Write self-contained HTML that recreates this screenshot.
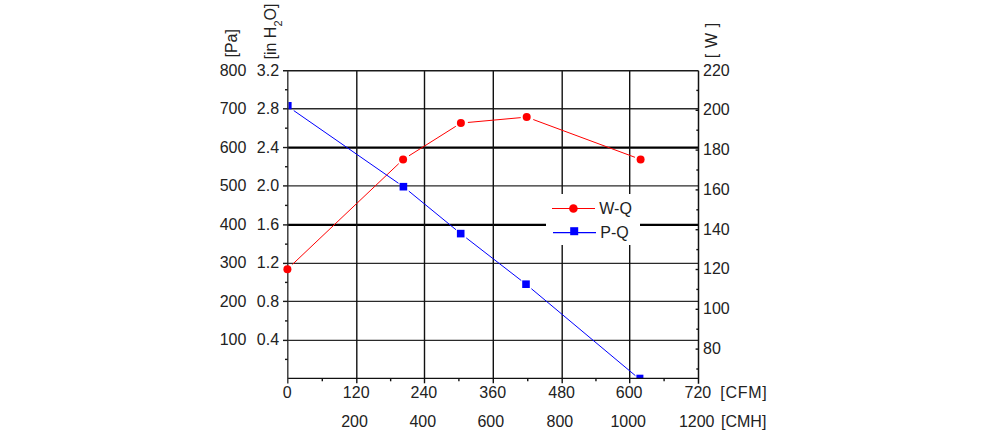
<!DOCTYPE html>
<html><head><meta charset="utf-8"><style>
html,body{margin:0;padding:0;background:#fff;}
svg{display:block;}
text{font-family:"Liberation Sans",Arial,sans-serif;font-size:16px;fill:#222;}
</style></head><body>
<svg width="983" height="437" viewBox="0 0 983 437">
<rect width="983" height="437" fill="#fff"/>
<line x1="287.8" y1="108.8" x2="698.5" y2="108.8" stroke="#2a2a2a" stroke-width="1.4"/>
<line x1="287.8" y1="147.55" x2="698.5" y2="147.55" stroke="#000" stroke-width="2.2"/>
<line x1="287.8" y1="185.9" x2="698.5" y2="185.9" stroke="#2a2a2a" stroke-width="1.4"/>
<line x1="287.8" y1="224.9" x2="698.5" y2="224.9" stroke="#000" stroke-width="2.2"/>
<line x1="287.8" y1="263.4" x2="698.5" y2="263.4" stroke="#2a2a2a" stroke-width="1.4"/>
<line x1="287.8" y1="301.4" x2="698.5" y2="301.4" stroke="#2a2a2a" stroke-width="1.4"/>
<line x1="287.8" y1="340.4" x2="698.5" y2="340.4" stroke="#2a2a2a" stroke-width="1.4"/>
<line x1="356.8" y1="70.7" x2="356.8" y2="378.4" stroke="#111" stroke-width="1.4"/>
<line x1="424.5" y1="70.7" x2="424.5" y2="378.4" stroke="#111" stroke-width="1.4"/>
<line x1="493.3" y1="70.7" x2="493.3" y2="378.4" stroke="#111" stroke-width="1.4"/>
<line x1="562.2" y1="70.7" x2="562.2" y2="378.4" stroke="#111" stroke-width="1.4"/>
<line x1="629.7" y1="70.7" x2="629.7" y2="378.4" stroke="#111" stroke-width="1.4"/>
<rect x="546" y="194" width="94" height="51" fill="#fff"/>
<line x1="292.48" y1="264.38" x2="398.75" y2="163.63" stroke="#f00" stroke-width="1.0"/>
<line x1="409.02" y1="155.77" x2="455.82" y2="126.3" stroke="#f00" stroke-width="1.0"/>
<line x1="467.87" y1="122.46" x2="520.72" y2="117.64" stroke="#f00" stroke-width="1.0"/>
<line x1="533.26" y1="119.54" x2="634.98" y2="157.31" stroke="#f00" stroke-width="1.0"/>
<line x1="293.75" y1="110.59" x2="398.47" y2="183.28" stroke="#00f" stroke-width="1.0"/>
<line x1="408.82" y1="191.13" x2="456.06" y2="229.8" stroke="#00f" stroke-width="1.0"/>
<line x1="466.23" y1="237.89" x2="521.26" y2="280.52" stroke="#00f" stroke-width="1.0"/>
<line x1="531.37" y1="288.69" x2="635.4" y2="375.65" stroke="#00f" stroke-width="1.0"/>
<rect x="288.4" y="102" width="3.2" height="7.3" fill="#00f"/>
<rect x="399.6" y="182.9" width="7.6" height="7.6" fill="#00f"/>
<rect x="456.9" y="229.8" width="7.6" height="7.6" fill="#00f"/>
<rect x="522.2" y="280.4" width="7.6" height="7.6" fill="#00f"/>
<rect x="636.4" y="374.7" width="7" height="3.3" fill="#00f"/>
<line x1="283" y1="70.7" x2="698.5" y2="70.7" stroke="#1a1a1a" stroke-width="1.4"/>
<line x1="287.8" y1="378.4" x2="698.5" y2="378.4" stroke="#111" stroke-width="1.4"/>
<line x1="287.8" y1="70.7" x2="287.8" y2="383.5" stroke="#333" stroke-width="1.4"/>
<line x1="698.5" y1="70.7" x2="698.5" y2="383.7" stroke="#111" stroke-width="1.5"/>
<line x1="283" y1="108.8" x2="287.8" y2="108.8" stroke="#1a1a1a" stroke-width="1.4"/>
<line x1="283" y1="147.55" x2="287.8" y2="147.55" stroke="#1a1a1a" stroke-width="1.4"/>
<line x1="283" y1="185.9" x2="287.8" y2="185.9" stroke="#1a1a1a" stroke-width="1.4"/>
<line x1="283" y1="224.9" x2="287.8" y2="224.9" stroke="#1a1a1a" stroke-width="1.4"/>
<line x1="283" y1="263.4" x2="287.8" y2="263.4" stroke="#1a1a1a" stroke-width="1.4"/>
<line x1="283" y1="301.4" x2="287.8" y2="301.4" stroke="#1a1a1a" stroke-width="1.4"/>
<line x1="283" y1="340.4" x2="287.8" y2="340.4" stroke="#1a1a1a" stroke-width="1.4"/>
<line x1="285" y1="89.75" x2="287.8" y2="89.75" stroke="#1a1a1a" stroke-width="1.4"/>
<line x1="285" y1="128.18" x2="287.8" y2="128.18" stroke="#1a1a1a" stroke-width="1.4"/>
<line x1="285" y1="166.73" x2="287.8" y2="166.73" stroke="#1a1a1a" stroke-width="1.4"/>
<line x1="285" y1="205.4" x2="287.8" y2="205.4" stroke="#1a1a1a" stroke-width="1.4"/>
<line x1="285" y1="244.15" x2="287.8" y2="244.15" stroke="#1a1a1a" stroke-width="1.4"/>
<line x1="285" y1="282.4" x2="287.8" y2="282.4" stroke="#1a1a1a" stroke-width="1.4"/>
<line x1="285" y1="320.9" x2="287.8" y2="320.9" stroke="#1a1a1a" stroke-width="1.4"/>
<line x1="285" y1="359.4" x2="287.8" y2="359.4" stroke="#1a1a1a" stroke-width="1.4"/>
<line x1="695.6" y1="110.3" x2="698.5" y2="110.3" stroke="#111" stroke-width="1.4"/>
<line x1="695.6" y1="150.1" x2="698.5" y2="150.1" stroke="#111" stroke-width="1.4"/>
<line x1="695.6" y1="189.9" x2="698.5" y2="189.9" stroke="#111" stroke-width="1.4"/>
<line x1="695.6" y1="229.7" x2="698.5" y2="229.7" stroke="#111" stroke-width="1.4"/>
<line x1="695.6" y1="269.5" x2="698.5" y2="269.5" stroke="#111" stroke-width="1.4"/>
<line x1="695.6" y1="309.3" x2="698.5" y2="309.3" stroke="#111" stroke-width="1.4"/>
<line x1="695.6" y1="349.1" x2="698.5" y2="349.1" stroke="#111" stroke-width="1.4"/>
<line x1="696.3" y1="90.4" x2="698.5" y2="90.4" stroke="#111" stroke-width="1.4"/>
<line x1="696.3" y1="130.2" x2="698.5" y2="130.2" stroke="#111" stroke-width="1.4"/>
<line x1="696.3" y1="170" x2="698.5" y2="170" stroke="#111" stroke-width="1.4"/>
<line x1="696.3" y1="209.8" x2="698.5" y2="209.8" stroke="#111" stroke-width="1.4"/>
<line x1="696.3" y1="249.6" x2="698.5" y2="249.6" stroke="#111" stroke-width="1.4"/>
<line x1="696.3" y1="289.4" x2="698.5" y2="289.4" stroke="#111" stroke-width="1.4"/>
<line x1="696.3" y1="329.2" x2="698.5" y2="329.2" stroke="#111" stroke-width="1.4"/>
<line x1="696.3" y1="369" x2="698.5" y2="369" stroke="#111" stroke-width="1.4"/>
<line x1="356.8" y1="378.4" x2="356.8" y2="383.3" stroke="#111" stroke-width="1.4"/>
<line x1="424.5" y1="378.4" x2="424.5" y2="383.3" stroke="#111" stroke-width="1.4"/>
<line x1="493.3" y1="378.4" x2="493.3" y2="383.3" stroke="#111" stroke-width="1.4"/>
<line x1="562.2" y1="378.4" x2="562.2" y2="383.3" stroke="#111" stroke-width="1.4"/>
<line x1="629.7" y1="378.4" x2="629.7" y2="383.3" stroke="#111" stroke-width="1.4"/>
<line x1="322.3" y1="378.4" x2="322.3" y2="381.3" stroke="#111" stroke-width="1.4"/>
<line x1="390.65" y1="378.4" x2="390.65" y2="381.3" stroke="#111" stroke-width="1.4"/>
<line x1="458.9" y1="378.4" x2="458.9" y2="381.3" stroke="#111" stroke-width="1.4"/>
<line x1="527.75" y1="378.4" x2="527.75" y2="381.3" stroke="#111" stroke-width="1.4"/>
<line x1="595.95" y1="378.4" x2="595.95" y2="381.3" stroke="#111" stroke-width="1.4"/>
<line x1="664.1" y1="378.4" x2="664.1" y2="381.3" stroke="#111" stroke-width="1.4"/>
<circle cx="287.4" cy="269.2" r="4.0" fill="#f00"/>
<circle cx="403.1" cy="159.5" r="4.0" fill="#f00"/>
<circle cx="460.9" cy="123.1" r="4.0" fill="#f00"/>
<circle cx="526.7" cy="117.1" r="4.0" fill="#f00"/>
<circle cx="640.6" cy="159.4" r="4.0" fill="#f00"/>
<line x1="552" y1="208.5" x2="595" y2="208.5" stroke="#f00" stroke-width="1.2"/>
<circle cx="573.4" cy="208.5" r="4.3" fill="#f00"/>
<line x1="553" y1="232.6" x2="596" y2="232.6" stroke="#00f" stroke-width="1.2"/>
<rect x="570.2" y="227.2" width="8" height="8" fill="#00f"/>
<text x="246.4" y="75.5" text-anchor="end">800</text>
<text x="279.1" y="75.5" text-anchor="end">3.2</text>
<text x="246.4" y="114.01" text-anchor="end">700</text>
<text x="279.1" y="114.01" text-anchor="end">2.8</text>
<text x="246.4" y="152.52" text-anchor="end">600</text>
<text x="279.1" y="152.52" text-anchor="end">2.4</text>
<text x="246.4" y="191.03" text-anchor="end">500</text>
<text x="279.1" y="191.03" text-anchor="end">2.0</text>
<text x="246.4" y="229.54" text-anchor="end">400</text>
<text x="279.1" y="229.54" text-anchor="end">1.6</text>
<text x="246.4" y="268.05" text-anchor="end">300</text>
<text x="279.1" y="268.05" text-anchor="end">1.2</text>
<text x="246.4" y="306.56" text-anchor="end">200</text>
<text x="279.1" y="306.56" text-anchor="end">0.8</text>
<text x="246.4" y="345.07" text-anchor="end">100</text>
<text x="279.1" y="345.07" text-anchor="end">0.4</text>
<text x="703" y="75.6" text-anchor="start">220</text>
<text x="703" y="115.33" text-anchor="start">200</text>
<text x="703" y="155.06" text-anchor="start">180</text>
<text x="703" y="194.79" text-anchor="start">160</text>
<text x="703" y="234.52" text-anchor="start">140</text>
<text x="703" y="274.25" text-anchor="start">120</text>
<text x="703" y="313.98" text-anchor="start">100</text>
<text x="703" y="353.71" text-anchor="start">80</text>
<text x="287.2" y="398.2" text-anchor="middle">0</text>
<text x="356.2" y="398.2" text-anchor="middle">120</text>
<text x="423.9" y="398.2" text-anchor="middle">240</text>
<text x="492.7" y="398.2" text-anchor="middle">360</text>
<text x="561.6" y="398.2" text-anchor="middle">480</text>
<text x="629.1" y="398.2" text-anchor="middle">600</text>
<text x="697.9" y="398.2" text-anchor="middle">720</text>
<text x="720.3" y="398.2" text-anchor="start" letter-spacing="0.7">[CFM]</text>
<text x="354.5" y="426.5" text-anchor="middle">200</text>
<text x="422.8" y="426.5" text-anchor="middle">400</text>
<text x="490.8" y="426.5" text-anchor="middle">600</text>
<text x="559.9" y="426.5" text-anchor="middle">800</text>
<text x="628.2" y="426.5" text-anchor="middle">1000</text>
<text x="696.7" y="426.5" text-anchor="middle">1200</text>
<text x="721" y="426.5" text-anchor="start">[CMH]</text>
<text x="599.3" y="214" text-anchor="start">W-Q</text>
<text x="600.3" y="238.1" text-anchor="start">P-Q</text>
<text transform="translate(236.6,57.5) rotate(-90)">[Pa]</text>
<text transform="translate(275.6,59.5) rotate(-90)">[in H<tspan font-size="11" dy="6.5">2</tspan><tspan dy="-6.5">O]</tspan></text>
<text transform="translate(717.0,58.2) rotate(-90)" xml:space="preserve" letter-spacing="0.6">[ W ]</text>
</svg>
</body></html>
